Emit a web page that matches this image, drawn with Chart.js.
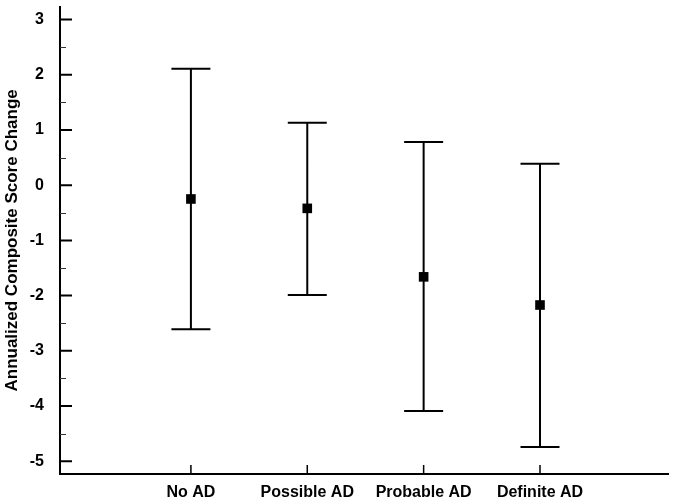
<!DOCTYPE html>
<html>
<head>
<meta charset="utf-8">
<script src="https://cdn.jsdelivr.net/npm/chart.js@4/dist/chart.umd.min.js"></script>
<style>
  body { margin: 0; background: #fff; }
  canvas { display: block; }
</style>
</head>
<body>
<canvas id="ciChart" width="685" height="499"></canvas>
<script>
const categories = ['No AD', 'Possible AD', 'Probable AD', 'Definite AD'];
const xPos = [1, 2, 3, 4];
const meanChange = [-0.25, -0.42, -1.66, -2.17];
const upperCI = [2.11, 1.13, 0.78, 0.39];
const lowerCI = [-2.61, -1.99, -4.09, -4.74];
const yTicks = [-5, -4, -3, -2, -1, 0, 1, 2, 3];
const yMinorTicks = [-4.5, -3.5, -2.5, -1.5, -0.5, 0.5, 1.5, 2.5];

// error bars drawn from the scales, under the markers
const errorBars = {
  id: 'errorBars',
  beforeDatasetsDraw(chart) {
    const {ctx, scales: {x, y}} = chart;
    ctx.save();
    ctx.strokeStyle = '#000';
    ctx.lineWidth = 2;
    ctx.beginPath();
    xPos.forEach((v, i) => {
      const px = x.getPixelForValue(v);
      const top = y.getPixelForValue(upperCI[i]);
      const bot = y.getPixelForValue(lowerCI[i]);
      ctx.moveTo(px, top); ctx.lineTo(px, bot);
      ctx.moveTo(px - 19.5, top); ctx.lineTo(px + 19.5, top);
      ctx.moveTo(px - 19.5, bot); ctx.lineTo(px + 19.5, bot);
    });
    ctx.stroke();
    ctx.restore();
  }
};

// inward tick marks
const inwardTicks = {
  id: 'inwardTicks',
  afterDraw(chart) {
    const {ctx, chartArea, scales: {x, y}} = chart;
    ctx.save();
    ctx.strokeStyle = '#000';
    ctx.lineWidth = 2;
    ctx.beginPath();
    yTicks.forEach(v => {
      const py = y.getPixelForValue(v);
      ctx.moveTo(chartArea.left, py); ctx.lineTo(chartArea.left + 12, py);
    });
    ctx.stroke();
    ctx.lineWidth = 1.5;
    ctx.beginPath();
    xPos.forEach(v => {
      const px = x.getPixelForValue(v);
      ctx.moveTo(px, chartArea.bottom); ctx.lineTo(px, chartArea.bottom - 9);
    });
    ctx.stroke();
    ctx.lineWidth = 1;
    ctx.strokeStyle = '#333';
    ctx.beginPath();
    yMinorTicks.forEach(v => {
      const py = Math.round(y.getPixelForValue(v)) + 0.5;
      ctx.moveTo(chartArea.left, py); ctx.lineTo(chartArea.left + 6, py);
    });
    ctx.stroke();
    ctx.restore();
  }
};

const ctx = document.getElementById('ciChart').getContext('2d');
const ciChart = new Chart(ctx, {
  type: 'scatter',
  data: {
    datasets: [{
      label: 'Mean change',
      data: categories.map((c, i) => ({x: xPos[i], y: meanChange[i]})),
      pointStyle: 'rect',
      pointRadius: 6.8,
      pointBorderWidth: 0,
      backgroundColor: '#000',
      borderColor: '#000',
      clip: false
    }]
  },
  options: {
    responsive: false,
    animation: false,
    layout: { padding: { left: 0, right: 17, top: 3, bottom: 0 } },
    plugins: {
      legend: { display: false },
      tooltip: { enabled: false }
    },
    scales: {
      x: {
        type: 'linear',
        min: -0.125,
        max: 5.1,
        afterBuildTicks: s => { s.ticks = xPos.map(v => ({value: v})); },
        afterFit: s => { s.height = 25; s.paddingLeft = 0; s.paddingRight = 0; },
        grid: { display: false },
        border: { display: true, color: '#000', width: 2 },
        ticks: {
          padding: 1,
          color: '#000',
          font: { family: 'Liberation Sans, Arial, sans-serif', size: 16, weight: 'bold' },
          callback: v => categories[xPos.indexOf(v)],
          maxRotation: 0
        }
      },
      y: {
        min: -5.23,
        max: 3.23,
        afterBuildTicks: s => { s.ticks = yTicks.map(v => ({value: v})); },
        afterFit: s => { s.width = 60; s.paddingTop = 0; s.paddingBottom = 0; },
        grid: { display: false },
        border: { display: true, color: '#000', width: 2 },
        ticks: {
          padding: 8,
          color: '#000',
          font: { family: 'Liberation Sans, Arial, sans-serif', size: 16, weight: 'bold' }
        },
        title: {
          display: true,
          text: 'Annualized Composite Score Change',
          color: '#000',
          padding: { top: 2, bottom: 0 },
          font: { family: 'Liberation Sans, Arial, sans-serif', size: 17, weight: 'bold', lineHeight: 1.2 }
        }
      }
    }
  },
  plugins: [errorBars, inwardTicks]
});
</script>
</body>
</html>
